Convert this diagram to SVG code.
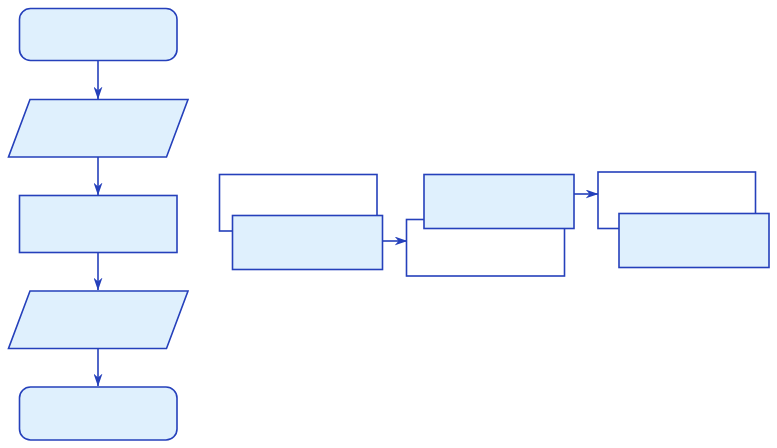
<svg xmlns="http://www.w3.org/2000/svg" width="777" height="448" viewBox="0 0 777 448">
<style>
.n{fill:#dff0fd;stroke:#2540bb;stroke-width:1.6}
.w{fill:#ffffff;stroke:#2540bb;stroke-width:1.6}
.c{fill:none;stroke:#2540bb;stroke-width:1.6}
</style>
<defs>
<marker id="ah" viewBox="0 0 13 9" refX="12.5" refY="4.5" markerWidth="13" markerHeight="9" markerUnits="userSpaceOnUse" orient="auto">
<path d="M0,0 L13,4.5 L0,9 L4,4.5 Z" fill="#2540bb"/>
</marker>
</defs>
<g id="connectors">
<line class="c" x1="98" y1="61" x2="98" y2="99" marker-end="url(#ah)"/>
<line class="c" x1="98" y1="157" x2="98" y2="195" marker-end="url(#ah)"/>
<line class="c" x1="98" y1="252" x2="98" y2="290" marker-end="url(#ah)"/>
<line class="c" x1="98" y1="348" x2="98" y2="386" marker-end="url(#ah)"/>
<line class="c" x1="383" y1="241" x2="407" y2="241" marker-end="url(#ah)"/>
<line class="c" x1="574" y1="194" x2="598" y2="194" marker-end="url(#ah)"/>
</g>
<g id="start"><rect class="n" x="19.5" y="8.5" width="157.5" height="52" rx="11"/></g>
<g id="input1"><polygon class="n" points="30,99.5 188,99.5 166.5,157 8.5,157"/></g>
<g id="process"><rect class="n" x="19.5" y="195.5" width="157.5" height="57"/></g>
<g id="input2"><polygon class="n" points="30,291 188,291 166.5,348.5 8.5,348.5"/></g>
<g id="end"><rect class="n" x="19.5" y="387" width="157.5" height="53" rx="11"/></g>
<g id="stack1">
<rect class="w" x="219.5" y="174.5" width="157.5" height="56.5"/>
<rect class="n" x="232.5" y="215.5" width="150" height="54"/>
</g>
<g id="stack2">
<rect class="w" x="406.5" y="219.5" width="158" height="56.5"/>
<rect class="n" x="424" y="174.5" width="150" height="54"/>
</g>
<g id="stack3">
<rect class="w" x="598" y="172" width="157.5" height="56.5"/>
<rect class="n" x="619" y="213.5" width="150" height="54"/>
</g>
</svg>
